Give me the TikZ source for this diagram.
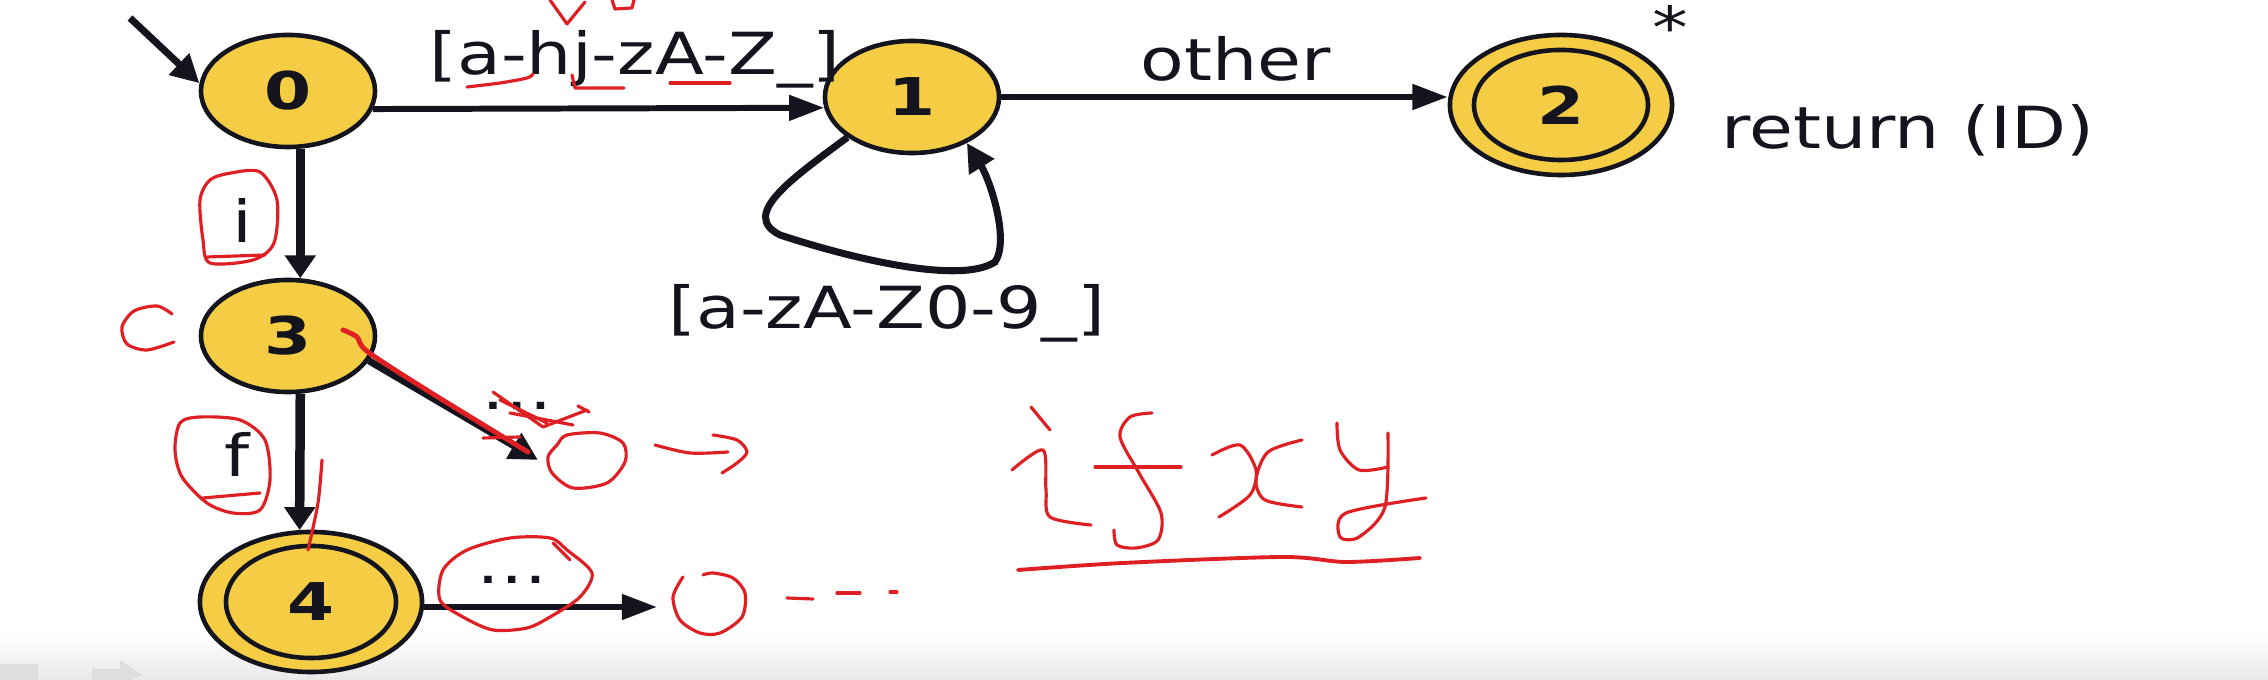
\documentclass[tikz,border=0pt]{standalone}
\usepackage{fontspec}
\setmainfont{DejaVu Sans}
\usepackage{graphicx}
\usetikzlibrary{shapes.geometric,arrows.meta}
\definecolor{stfill}{RGB}{244,205,68}
\definecolor{ink}{RGB}{20,20,30}
\definecolor{penred}{RGB}{222,32,36}
\newcommand\wtext[1]{\scalebox{1.23}[1]{#1}}
\newcommand\wdigit[1]{\scalebox{1.3}[1]{#1}}
\begin{document}
\begin{tikzpicture}[x=0.01cm,y=-0.01cm,
  dstate/.style={ellipse,draw=ink,line width=1.3pt,fill=stfill,minimum width=1.74cm,minimum height=1.12cm,inner sep=0pt,font=\fontsize{14.8}{16}\selectfont\bfseries,text=ink},
  accstate/.style={dstate,minimum width=2.22cm,minimum height=1.4cm},
  conn/.style={draw=ink,line width=2pt,-{Triangle[length=8pt,width=8pt]}},
  hconn/.style={draw=ink,line width=1.7pt,-{Triangle[length=10pt,width=7pt]}},
  vconn/.style={draw=ink,line width=2.7pt,-{Triangle[length=6.5pt,width=8.5pt]}},
  lbl/.style={font=\fontsize{16.5}{18}\selectfont,text=ink,inner sep=0pt},
  redink/.style={draw=penred,line width=0.9pt,line cap=round,line join=round}
]
% background
\fill[white] (0,0) rectangle (2268,680);
\path[use as bounding box] (0,0) rectangle (2268,680);
\shade[top color=white,bottom color=black!9] (0,635) rectangle (2268,680);
\fill[black!13] (0,664) rectangle (38,680);
\fill[black!13] (92,669) -- (120,669) -- (120,660) -- (142,675) -- (130,680) -- (92,680) -- cycle;

% states
\node[dstate] (n0) at (288,91) {\wdigit{0}};
\node[dstate] (n1) at (912,97) {\wdigit{1}};
\node[accstate] (n2) at (1561,105) {\wdigit{2}};
\draw[ink,line width=1.3pt] (n2.center) ellipse [x radius=0.87cm,y radius=0.55cm];
\node[dstate] (n3) at (288,336) {\wdigit{3}};
\node[accstate] (n4) at (311,602) {\wdigit{4}};
\draw[ink,line width=1.3pt] (n4.center) ellipse [x radius=0.85cm,y radius=0.56cm];

% connectors
\coordinate (s0) at (130,18);
\draw[conn] (s0) -- (n0.175);
\draw[hconn] (n0.-12) -- (n1.187);
\draw[hconn] (n1.east) -- (n2.west |- n1.east);
\draw[conn] (n1.212) .. controls (790,180) and (740,215) .. (780,235)
  .. controls (850,258) and (960,285) .. (995,262)
  .. controls (1010,240) and (990,180) .. (n1.320);
\draw[vconn] (n0.-78) -- (n3.78);
\draw[vconn] (n3.-78) -- (n4.99);
\coordinate (d3) at (538,460);
\draw[conn] (n3.-17) -- (d3);
\coordinate (d4) at (657,607);
\draw[hconn] (n4.east |- d4) -- (d4);

% labels
\node[lbl,anchor=base] (l01) at (635,75) {\wtext{[a-hj-zA-Z\_]}};
\node[lbl,anchor=base] (l12) at (1236,81) {\wtext{other}};
\node[lbl,anchor=base] (l11) at (887,329) {\wtext{[a-zA-Z0-9\_]}};
\node[lbl,anchor=base west] (ret) at (1721,149) {\wtext{return (ID)}};
\node[lbl,anchor=base] (star) at (1670,49) {\wtext{*}};
\node[lbl,anchor=base] (l03) at (242,243) {\wtext{i}};
\node[lbl,anchor=base] (l34) at (237,477) {\wtext{f}};
\node[lbl,anchor=base] (l3d) at (517,410) {\wtext{…}};
\node[lbl,anchor=base] (l4d) at (512,584) {\wtext{…}};

% red handwritten annotations
\draw[redink] (550,0) -- (567,24) -- (585,2);
\draw[redink] (612,0) -- (615,9) -- (632,8) -- (634,0);
\draw[redink] plot[smooth] coordinates {(467,87) (500,83) (527,78) (533,74)};
\draw[redink] (572,75) -- (575,88) -- (624,88);
\draw[redink] (670,83) -- (730,83);
\draw[redink] plot[smooth cycle] coordinates {(231,173) (260,172) (277,200) (274,243) (253,260) (210,263) (203,240) (200,200) (210,180)};
\draw[redink] (207,257) -- (265,255);
\draw[redink] plot[smooth] coordinates {(172,314) (157,306) (134,311) (122,327) (127,344) (147,350) (174,342)};
\draw[redink,line width=1.4pt] plot[smooth] coordinates {(343,330) (357,337) (368,352) (433,394) (528,452)};
\draw[redink] (493,392) -- (543,427);
\draw[redink] (500,400) -- (547,423);
\draw[redink] (510,413) -- (573,425);
\draw[redink] (543,427) -- (587,410);
\draw[redink] (578,406) -- (589,412);
\draw[redink] (483,438) -- (520,437);
\draw[redink] plot[smooth cycle] coordinates {(557,445) (567,435) (600,433) (623,443) (625,462) (607,483) (573,488) (552,473) (548,457)};
\draw[redink] plot[smooth] coordinates {(655,445) (690,453) (728,452)};
\draw[redink] plot[smooth] coordinates {(713,435) (737,440) (747,452) (737,463) (722,473)};
\draw[redink] plot[smooth cycle] coordinates {(180,423) (200,417) (240,420) (265,440) (270,480) (260,510) (233,513) (207,503) (182,477) (175,450)};
\draw[redink] (203,498) -- (260,493);
\draw[redink] plot[smooth] coordinates {(322,460) (318,503) (308,550)};
\draw[redink] plot[smooth cycle] coordinates {(443,570) (467,550) (510,538) (550,538) (567,550) (592,573) (580,597) (550,617) (527,628) (493,630) (463,617) (440,600)};
\draw[redink] (553,543) -- (570,560);
\draw[redink] plot[smooth] coordinates {(703,575) (713,573) (733,578) (745,593) (742,617) (720,633) (700,633) (680,620) (673,597) (683,577)};
\draw[redink] (787,598) -- (813,599);
\draw[redink] (837,593) -- (860,593);
\draw[redink] (890,592) -- (897,592);
% "ifxy"
\draw[redink] (1031,407) -- (1050,430);
\draw[redink] plot[smooth] coordinates {(1012,470) (1043,450) (1046,490) (1050,517) (1091,525)};
\draw[redink] plot[smooth] coordinates {(1152,413) (1130,417) (1120,437) (1139,473) (1161,513) (1158,540) (1136,548) (1117,545) (1114,530)};
\draw[redink] (1095,467) -- (1181,467);
\draw[redink] plot[smooth] coordinates {(1212,455) (1240,445) (1256,470) (1250,495) (1219,517)};
\draw[redink] plot[smooth] coordinates {(1302,440) (1268,452) (1256,480) (1265,500) (1302,507)};
\draw[redink] plot[smooth] coordinates {(1337,423) (1340,450) (1359,470) (1388,467)};
\draw[redink] plot[smooth] coordinates {(1388,433) (1385,507) (1359,537) (1340,537) (1346,513) (1426,498)};
\draw[redink,line width=1.1pt] plot[smooth] coordinates {(1018,570) (1123,563) (1283,557) (1346,562) (1420,558)};
\end{tikzpicture}
\end{document}
